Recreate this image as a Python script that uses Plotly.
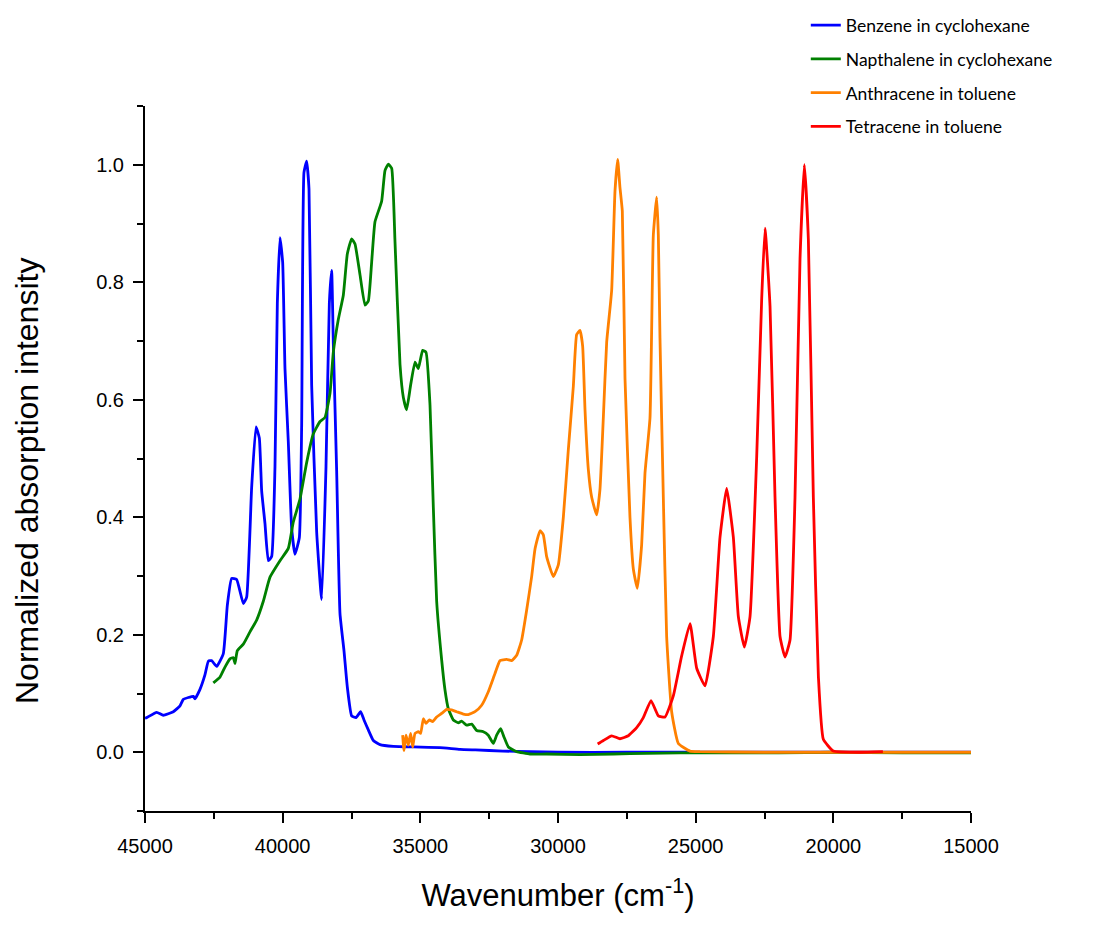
import plotly.graph_objects as go

# ---------------- data (wavenumber in cm^-1, normalized intensity) ----------------
benzene_wn = [45000, 44940, 44577, 44335, 43971, 43729, 43608, 43245, 43185, 43003, 42821, 42700,
              42579, 42397, 42155, 42010, 41853, 41671, 41429, 41308, 41126, 40969, 40848, 40763,
              40642, 40521, 40400, 40279, 40194, 40097, 40000, 39916, 39795, 39674, 39553, 39395,
              39310, 39226, 39129, 39044, 38947, 38765, 38584, 38426, 38305, 38221, 38160, 38039,
              37918, 37773, 37652, 37495, 37337, 37168, 37046, 36889, 36707, 36465, 35981, 35255,
              34286, 33560, 33000, 32000, 31000, 30000, 27500, 25000, 22500, 20000, 17500, 15000]
benzene_int = [0.058, 0.059, 0.068, 0.063, 0.069, 0.079, 0.090, 0.095, 0.091, 0.107, 0.132, 0.155,
               0.156, 0.146, 0.168, 0.250, 0.296, 0.294, 0.253, 0.264, 0.451, 0.554, 0.535, 0.445,
               0.389, 0.326, 0.333, 0.486, 0.764, 0.876, 0.834, 0.653, 0.528, 0.382, 0.337, 0.365,
               0.556, 0.987, 1.006, 0.959, 0.625, 0.375, 0.260, 0.486, 0.764, 0.820, 0.695, 0.479,
               0.236, 0.173, 0.111, 0.062, 0.059, 0.069, 0.055, 0.038, 0.020, 0.013, 0.010, 0.009,
               0.008, 0.005, 0.004, 0.002, 0.001, 0.000, 0.000, 0.000, 0.000, 0.000, 0.000, 0.000]

napthalene_wn = [42519, 42276, 42095, 41913, 41792, 41732, 41647, 41429, 41187, 40945, 40703, 40460,
                 40097, 39795, 39613, 39371, 39129, 38887, 38644, 38463, 38281, 38160, 37978, 37797,
                 37652, 37495, 37373, 37192, 37010, 36889, 36768, 36647, 36405, 36284, 36163, 36041,
                 35920, 35738, 35617, 35497, 35352, 35194, 35073, 34916, 34795, 34649, 34528, 34407,
                 34225, 34104, 33983, 33802, 33620, 33499, 33317, 33136, 32954, 32712, 32531, 32349,
                 32228, 32082, 31962, 31804, 31501, 31017, 30412, 29201, 27990, 26780, 25569, 24358,
                 22000, 20000, 17500, 15000]
napthalene_int = [0.118, 0.128, 0.145, 0.159, 0.161, 0.151, 0.173, 0.184, 0.205, 0.225, 0.257, 0.298,
                  0.326, 0.347, 0.392, 0.431, 0.493, 0.542, 0.563, 0.570, 0.611, 0.681, 0.737, 0.778,
                  0.848, 0.874, 0.865, 0.813, 0.761, 0.768, 0.834, 0.903, 0.938, 0.990, 1.001, 0.994,
                  0.869, 0.660, 0.604, 0.583, 0.625, 0.664, 0.653, 0.684, 0.681, 0.591, 0.417, 0.257,
                  0.157, 0.106, 0.074, 0.055, 0.050, 0.053, 0.046, 0.048, 0.037, 0.035, 0.029, 0.015,
                  0.029, 0.040, 0.026, 0.009, 0.001, -0.003, -0.003, -0.004, -0.003, -0.002, -0.001, -0.001,
                  -0.001, 0.000, -0.001, -0.001]

anthracene_wn = [35642, 35593, 35521, 35436, 35352, 35279, 35194, 35073, 34988, 34891, 34795, 34674,
                 34553, 34407, 34225, 34044, 33862, 33681, 33438, 33257, 33015, 32773, 32531, 32289,
                 32107, 31865, 31683, 31501, 31320, 31138, 30957, 30835, 30654, 30533, 30412, 30170,
                 29988, 29806, 29625, 29443, 29322, 29201, 29104, 29019, 28898, 28777, 28596, 28475,
                 28354, 28232, 28051, 27930, 27833, 27749, 27664, 27567, 27386, 27264, 27119, 26962,
                 26841, 26659, 26538, 26417, 26356, 26296, 26175, 26054, 25872, 25630, 25206, 24842,
                 22500, 20000, 17500, 15000]
anthracene_int = [0.029, 0.003, 0.029, 0.012, 0.032, 0.009, 0.032, 0.035, 0.032, 0.057, 0.049, 0.055,
                  0.052, 0.060, 0.066, 0.073, 0.072, 0.069, 0.065, 0.064, 0.069, 0.080, 0.103, 0.134,
                  0.156, 0.158, 0.156, 0.165, 0.191, 0.242, 0.299, 0.346, 0.377, 0.370, 0.333, 0.299,
                  0.319, 0.400, 0.515, 0.623, 0.711, 0.718, 0.691, 0.583, 0.481, 0.434, 0.404, 0.448,
                  0.569, 0.698, 0.786, 0.955, 1.009, 0.961, 0.921, 0.637, 0.400, 0.312, 0.279, 0.353,
                  0.475, 0.569, 0.880, 0.945, 0.880, 0.705, 0.434, 0.197, 0.069, 0.015, 0.002, 0.001,
                  0.000, 0.000, 0.000, 0.000]

tetracene_wn = [28560, 28354, 28051, 27749, 27446, 27143, 26901, 26622, 26356, 26113, 25812, 25509,
                25205, 24963, 24660, 24358, 24116, 23874, 23632, 23450, 23232, 23026, 22784, 22602,
                22481, 22299, 22118, 21936, 21755, 21573, 21392, 21210, 21053, 20907, 20726, 20544,
                20363, 20000, 19030, 18200]
tetracene_int = [0.014, 0.020, 0.028, 0.023, 0.028, 0.042, 0.059, 0.088, 0.062, 0.060, 0.096, 0.164,
                 0.219, 0.143, 0.113, 0.197, 0.366, 0.449, 0.366, 0.231, 0.179, 0.231, 0.502, 0.772,
                 0.892, 0.759, 0.434, 0.197, 0.162, 0.191, 0.434, 0.840, 1.000, 0.873, 0.434, 0.130,
                 0.022, 0.002, 0.000, 0.001]

series = [
    ("Benzene in cyclohexane", benzene_wn, benzene_int, "#0000FF"),
    ("Napthalene in cyclohexane", napthalene_wn, napthalene_int, "#008000"),
    ("Anthracene in toluene", anthracene_wn, anthracene_int, "#FF8000"),
    ("Tetracene in toluene", tetracene_wn, tetracene_int, "#FF0000"),
]

x_tickvals = [45000, 40000, 35000, 30000, 25000, 20000, 15000]
y_tickvals = [0.0, 0.2, 0.4, 0.6, 0.8, 1.0]
x_title = "Wavenumber (cm<sup>-1</sup>)"
y_title = "Normalized absorption intensity"

fig = go.Figure()
for i, (name, xs, ys, col) in enumerate(series):
    fig.add_trace(go.Scatter(x=xs, y=ys, mode="lines", name=name, legendgroup=f"g{i}",
                             line=dict(color=col, width=2.8, shape="spline", smoothing=0.4)))

axis_font = dict(family="Liberation Sans, Arial, sans-serif", size=20, color="black")

fig.update_layout(
    width=1119, height=931,
    margin=dict(l=145, r=148, t=106, b=120, autoexpand=False),
    paper_bgcolor="white", plot_bgcolor="white",
    showlegend=True,
    legend=dict(x=0.800, y=1.140, xanchor="left", yanchor="top",
                font=dict(family="Lato, Carlito, sans-serif", size=17.5, color="black"),
                tracegroupgap=8, bgcolor="rgba(0,0,0,0)", traceorder="grouped"),
    xaxis=dict(range=[45000, 15000], tickvals=x_tickvals, ticktext=[str(v) for v in x_tickvals],
               showgrid=False, zeroline=False, showline=True, linecolor="black", linewidth=2,
               ticks="outside", ticklen=10, tickwidth=2, tickcolor="black",
               minor=dict(dtick=2500, ticks="outside", ticklen=6, tickwidth=2, tickcolor="black", showgrid=False),
               tickfont=axis_font, ticklabelstandoff=6,
               title=dict(text=x_title, standoff=28,
                          font=dict(family="Liberation Sans, Arial, sans-serif", size=31, color="black"))),
    yaxis=dict(range=[-0.1, 1.1], tickvals=y_tickvals, ticktext=[f"{v:.1f}" for v in y_tickvals],
               showgrid=False, zeroline=False, showline=True, linecolor="black", linewidth=2,
               ticks="outside", ticklen=10, tickwidth=2, tickcolor="black",
               minor=dict(dtick=0.1, ticks="outside", ticklen=6, tickwidth=2, tickcolor="black", showgrid=False),
               tickfont=axis_font, ticklabelstandoff=5),
    annotations=[dict(text=y_title, xref="paper", yref="paper", x=-0.1429, y=0.468,
                      xanchor="center", yanchor="middle", textangle=-90, showarrow=False,
                      font=dict(family="Liberation Sans, Arial, sans-serif", size=32, color="black"))],
)

fig.write_html("out.html")
